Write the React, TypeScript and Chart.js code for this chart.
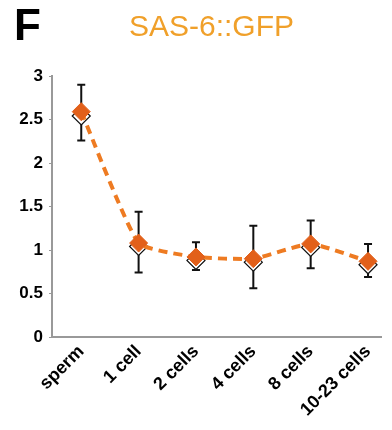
import React, { useEffect, useRef } from "react";
import { Chart, registerables } from "chart.js";

Chart.register(...registerables);

const categories = ["sperm", "1 cell", "2 cells", "4 cells", "8 cells", "10-23 cells"];
const meanValues = [2.59, 1.08, 0.92, 0.9, 1.07, 0.87];
const secondValues = [2.54, 1.04, 0.88, 0.86, 1.03, 0.83];
const errorHigh = [2.9, 1.44, 1.09, 1.28, 1.34, 1.07];
const errorLow = [2.26, 0.74, 0.77, 0.56, 0.79, 0.69];
const yTicks = [0, 0.5, 1, 1.5, 2, 2.5, 3];

const errorBarPlugin = {
  id: "errorBars",
  beforeDatasetsDraw(chart: any) {
    const { ctx, scales } = chart;
    const xs = scales.x;
    const ys = scales.y;
    ctx.save();
    ctx.strokeStyle = "#111";
    ctx.lineWidth = 2;
    categories.forEach((_, i) => {
      const x = xs.getPixelForValue(i);
      const yh = ys.getPixelForValue(errorHigh[i]);
      const yl = ys.getPixelForValue(errorLow[i]);
      ctx.beginPath();
      ctx.moveTo(x, yh);
      ctx.lineTo(x, yl);
      ctx.moveTo(x - 4, yh);
      ctx.lineTo(x + 4, yh);
      ctx.moveTo(x - 4, yl);
      ctx.lineTo(x + 4, yl);
      ctx.stroke();
    });
    ctx.restore();
  },
};

export default function App() {
  const ref = useRef<HTMLCanvasElement | null>(null);

  useEffect(() => {
    document.body.style.margin = "0";
    if (!ref.current) return;
    const chart = new Chart(ref.current, {
      type: "line",
      data: {
        datasets: [
          {
            data: meanValues.map((v, i) => ({ x: i, y: v })),
            borderColor: "#EE7B22",
            borderWidth: 4,
            borderDash: [9, 6],
            tension: 0.15,
            pointStyle: "rectRot",
            pointRadius: 9,
            pointBackgroundColor: "#E2601A",
            pointBorderColor: "#E2601A",
            pointBorderWidth: 1,
            order: 0,
          },
          {
            data: secondValues.map((v, i) => ({ x: i, y: v })),
            showLine: false,
            pointStyle: "rectRot",
            pointRadius: 9,
            pointBackgroundColor: "#ffffff",
            pointBorderColor: "#111",
            pointBorderWidth: 1.2,
            order: 1,
          },
        ],
      },
      options: {
        animation: false,
        responsive: false,
        layout: { padding: { top: 76, right: 2, left: 0, bottom: 0 } },
        plugins: { legend: { display: false }, tooltip: { enabled: false } },
        scales: {
          x: {
            type: "linear",
            min: -0.51,
            max: 5.24,
            afterBuildTicks: (axis: any) => {
              axis.ticks = categories.map((_, i) => ({ value: i }));
            },
            afterFit: (axis: any) => {
              axis.height = 93;
            },
            ticks: {
              autoSkip: false,
              minRotation: 45,
              maxRotation: 45,
              color: "#000",
              padding: -4,
              font: { family: "Liberation Sans, Arial", size: 18, weight: "bold" },
              callback: (v: any) => categories[v] ?? "",
            },
            grid: { display: false },
            border: { display: true, color: "#999", width: 2 },
          },
          y: {
            min: 0,
            max: 3,
            afterBuildTicks: (axis: any) => {
              axis.ticks = yTicks.map((v) => ({ value: v }));
            },
            afterFit: (axis: any) => {
              axis.width = 52;
            },
            ticks: {
              color: "#000",
              padding: 6,
              font: { family: "Liberation Sans, Arial", size: 17, weight: "bold" },
              callback: (v: any) => String(v),
            },
            grid: { drawOnChartArea: false, drawTicks: true, tickLength: 3, tickColor: "#999" },
            border: { display: true, color: "#999", width: 2 },
          },
        },
      },
      plugins: [errorBarPlugin],
    });
    return () => chart.destroy();
  }, []);

  return (
    <div style={{ position: "relative", width: 392, height: 430, background: "#fff" }}>
      <canvas ref={ref} width={392} height={430} style={{ position: "absolute", left: 0, top: 0 }} />
      <div
        style={{
          position: "absolute",
          left: 14,
          top: 0,
          fontFamily: "Liberation Sans, Arial",
          fontWeight: "bold",
          fontSize: 44,
          color: "#000",
          lineHeight: "50px",
        }}
      >
        F
      </div>
      <div
        style={{
          position: "absolute",
          left: 129,
          top: 9,
          fontFamily: "Liberation Sans, Arial",
          fontSize: 30,
          color: "#F0A02A",
          lineHeight: "34px",
        }}
      >
        SAS-6::GFP
      </div>
    </div>
  );
}
